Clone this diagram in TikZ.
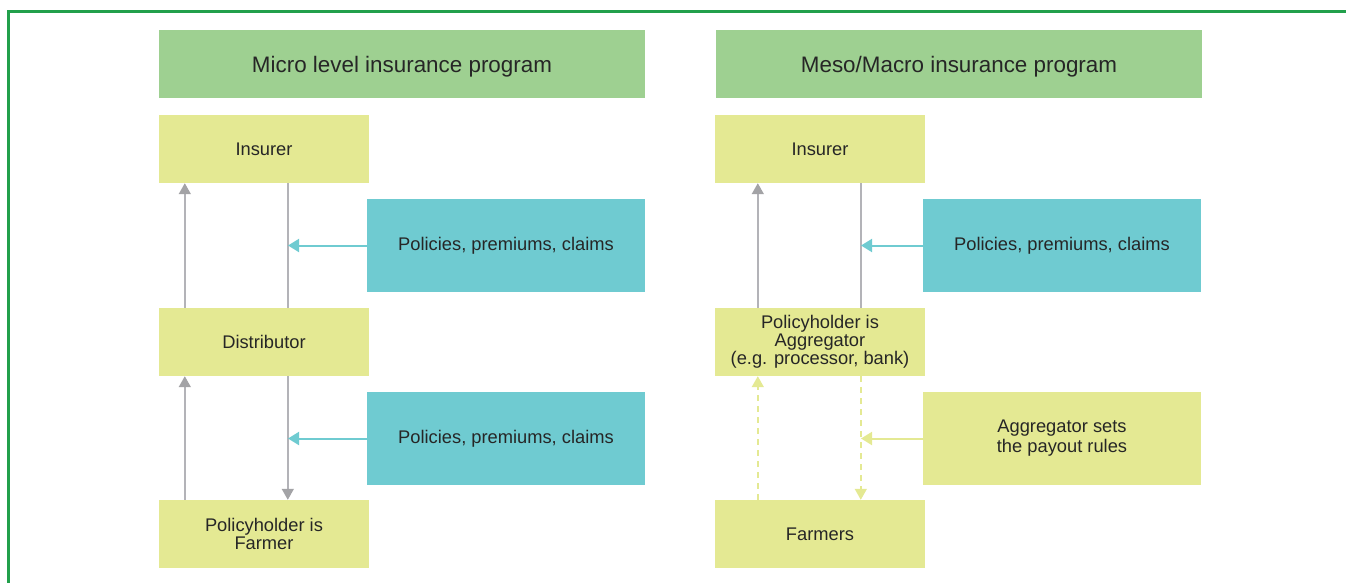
\documentclass[tikz,border=0pt]{standalone}
\usepackage{fontspec}
\setmainfont{Liberation Sans}
\usetikzlibrary{arrows.meta}
\definecolor{framegreen}{HTML}{22A04B}
\definecolor{headgreen}{HTML}{9ED091}
\definecolor{boxyellow}{HTML}{E4E993}
\definecolor{boxcyan}{HTML}{6FCBD1}
\definecolor{flowgrey}{HTML}{B3B3B8}
\definecolor{tipgrey}{HTML}{A3A3A6}
\definecolor{inktext}{HTML}{262626}
\tikzset{
  header/.style={fill=headgreen, minimum width=486pt, minimum height=68pt,
    inner sep=0pt, text height=16pt, text depth=0pt,
    font=\fontsize{22.4}{24}\selectfont, text=inktext},
  party/.style={fill=boxyellow, minimum width=210pt, minimum height=68pt,
    inner sep=0pt, align=center, font=\fontsize{18.3}{18}\selectfont, text=inktext},
  info/.style={fill=#1, minimum width=278pt, minimum height=93pt,
    inner sep=0pt, align=center, font=\fontsize{18.3}{18}\selectfont, text=inktext},
  flow/.style={draw=flowgrey, line width=1.6pt},
  flowtip/.style={flow, -{Triangle[length=11pt,width=12pt,color=tipgrey,fill=tipgrey]}},
  feed/.style={draw=#1, line width=2pt, -{Triangle[length=11pt,width=13pt,color=#1,fill=#1]}},
  dashflow/.style={draw=boxyellow, line width=1.6pt, dash pattern=on 6pt off 5pt,
    -{Triangle[length=11pt,width=12pt,color=boxyellow,fill=boxyellow,sep=0pt]}},
}
\begin{document}
\begin{tikzpicture}[x=1pt,y=-1pt]
\useasboundingbox (0,0) rectangle (1346,582);
% frame
\draw[framegreen, line width=3pt] (8,590) -- (8,11) -- (1360,11);

% ---- micro level column ----
\node[header] (hL) at (402,64) {Micro level insurance program};
\node[party] (insL) at (264,149) {Insurer};
\node[party] (distL) at (264,342) {Distributor};
\node[party] (farmL) at (264,534) {Policyholder is\\Farmer};
\node[info=boxcyan] (ppL1) at (506,245.5) {Policies, premiums, claims};
\node[info=boxcyan] (ppL2) at (506,438.5) {Policies, premiums, claims};

\coordinate (dL1) at (288,245.5);
\coordinate (dL2) at (288,438.5);
\draw[flowtip] ([xshift=26pt]distL.north west) -- ([xshift=26pt]insL.south west);
\draw[flow] ([xshift=129pt]insL.south west) -- ([xshift=129pt]distL.north west);
\draw[feed=boxcyan] (ppL1.west) -- (dL1);
\draw[flowtip] ([xshift=26pt]farmL.north west) -- ([xshift=26pt]distL.south west);
\draw[flowtip] ([xshift=129pt]distL.south west) -- ([xshift=129pt]farmL.north west);
\draw[feed=boxcyan] (ppL2.west) -- (dL2);

% ---- meso / macro column ----
\node[header] (hR) at (959,64) {Meso/Macro insurance program};
\node[party] (insR) at (820,149) {Insurer};
\node[party] (aggR) at (820,342) {Policyholder is\\Aggregator\\(e.g. processor, bank)};
\node[party] (farmR) at (820,534) {Farmers};
\node[info=boxcyan] (ppR) at (1062,245.5) {Policies, premiums, claims};
\node[info=boxyellow] (rulesR) at (1062,438.5) {Aggregator sets\\[2pt] the payout rules};

\coordinate (dR1) at (861,245.5);
\coordinate (dR2) at (861,438.5);
\draw[flowtip] ([xshift=43pt]aggR.north west) -- ([xshift=43pt]insR.south west);
\draw[flow] ([xshift=146pt]insR.south west) -- ([xshift=146pt]aggR.north west);
\draw[feed=boxcyan] (ppR.west) -- (dR1);
\draw[dashflow] ([xshift=43pt]farmR.north west) -- ([xshift=43pt]aggR.south west);
\draw[dashflow] ([xshift=146pt]aggR.south west) -- ([xshift=146pt]farmR.north west);
\draw[feed=boxyellow] (rulesR.west) -- (dR2);
\end{tikzpicture}
\end{document}
